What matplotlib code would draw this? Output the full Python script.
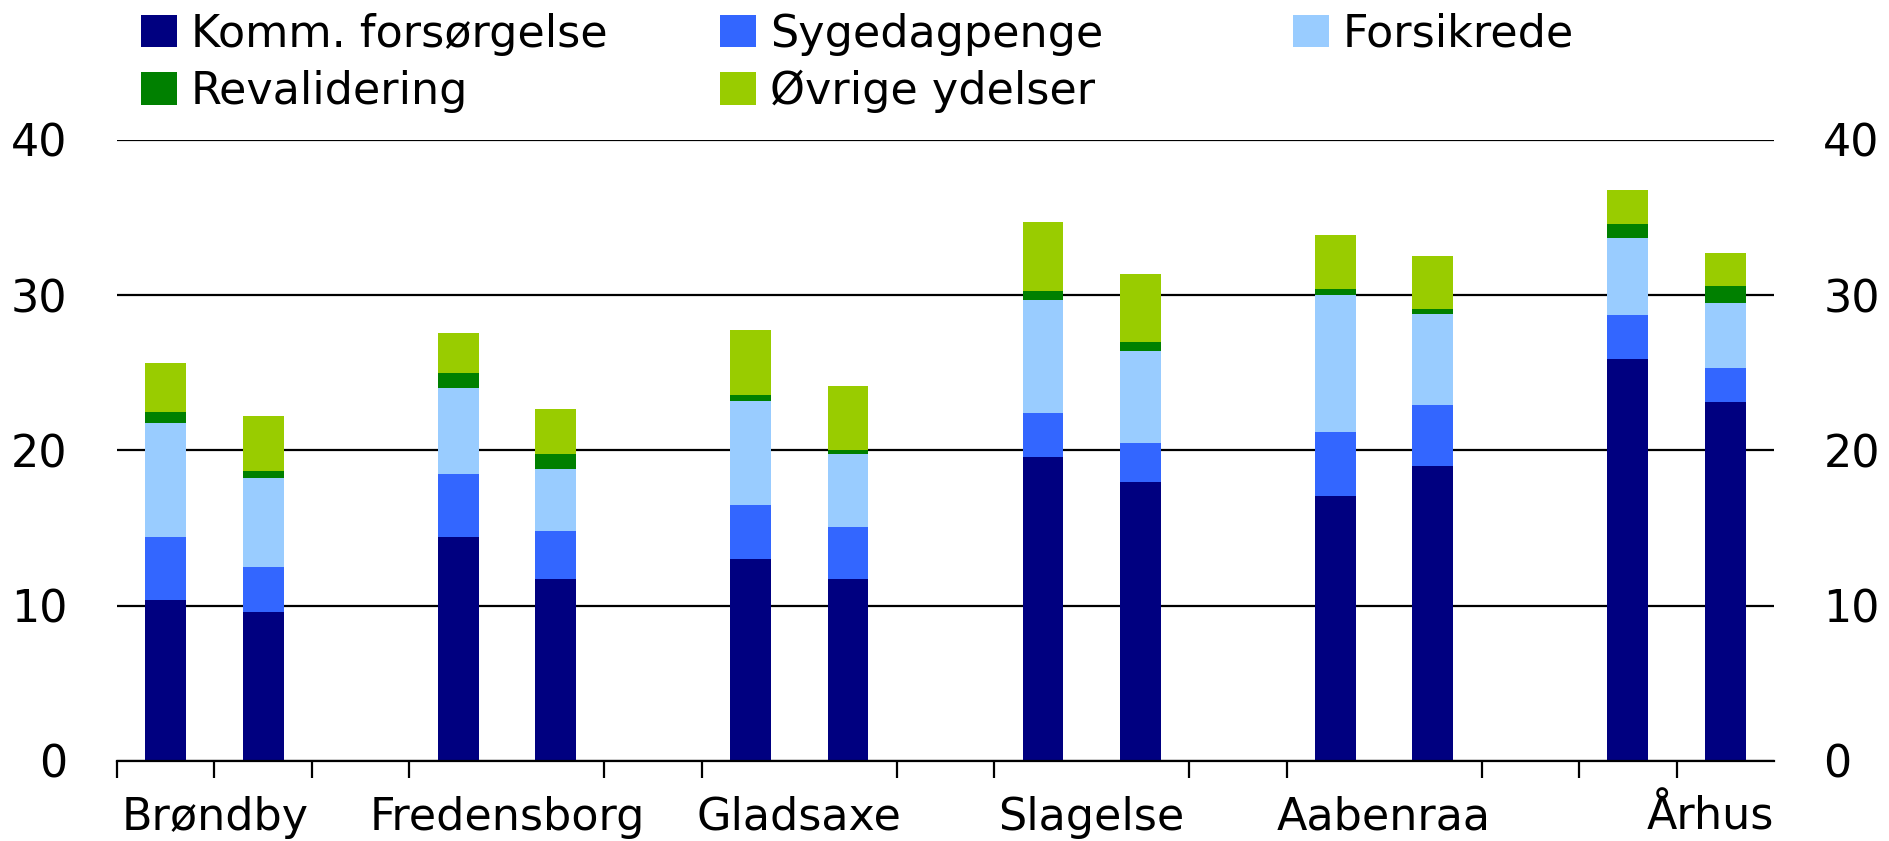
import matplotlib
matplotlib.use("Agg")
import matplotlib.pyplot as plt
import numpy as np

kommuner = ["Brøndby", "Fredensborg", "Gladsaxe", "Slagelse", "Aabenraa", "Århus"]

# two bars per municipality
komm = [10.4, 9.6, 14.4, 11.7, 13.0, 11.7, 19.6, 18.0, 17.1, 19.0, 25.9, 23.1]
syge = [4.0, 2.9, 4.1, 3.1, 3.5, 3.4, 2.8, 2.5, 4.1, 3.9, 2.8, 2.2]
forsikrede = [7.4, 5.7, 5.5, 4.0, 6.7, 4.7, 7.3, 5.9, 8.8, 5.9, 5.0, 4.2]
reval = [0.65, 0.5, 1.0, 1.0, 0.35, 0.25, 0.6, 0.6, 0.4, 0.3, 0.9, 1.1]
ovrige = [3.2, 3.5, 2.6, 2.9, 4.2, 4.1, 4.4, 4.4, 3.5, 3.4, 2.2, 2.1]

series = [
    ("Komm. forsørgelse", komm, "#000080"),
    ("Sygedagpenge", syge, "#3366FF"),
    ("Forsikrede", forsikrede, "#99CCFF"),
    ("Revalidering", reval, "#008000"),
    ("Øvrige ydelser", ovrige, "#99CC00"),
]

FS = 32

fig = plt.figure(figsize=(18.9, 8.41), dpi=100)
ax = fig.add_axes([117 / 1890, 1 - 761 / 841, (1774 - 117) / 1890, (761 - 140) / 841])

# bars sit in slots 0,1 / 3,4 / ... with an empty slot between groups
x = np.array([g * 3 + i for g in range(len(kommuner)) for i in range(2)])
bottom = np.zeros(len(x))
bars = {}
for name, vals, col in series:
    bars[name] = ax.bar(x, vals, 0.42, bottom=bottom, color=col, label=name, zorder=3)
    bottom += np.array(vals)

ax.set_xlim(-0.5, 16.5)
ax.set_ylim(0, 40)
ax.set_yticks([0, 10, 20, 30, 40])
ax.grid(axis="y", color="black", linewidth=1.6, zorder=0)
ax.set_axisbelow(True)
for s in ["left", "right", "top"]:
    ax.spines[s].set_visible(False)
ax.spines["bottom"].set_linewidth(1.6)
ax.spines["bottom"].set_zorder(4)

ax.tick_params(axis="y", left=False, right=False, labelleft=True, labelright=True,
               labelsize=FS, pad=32)

ax.set_xticks(np.arange(-0.5, 17, 1), minor=True)
ax.tick_params(axis="x", which="minor", length=12, width=1.6, direction="out")
ax.set_xticks([-0.45, 3.5, 6.5, 9.5, 12.5, 16.5])
ax.set_xticklabels(kommuner, fontsize=FS)
ax.tick_params(axis="x", which="major", length=0, pad=25)
xl = ax.get_xticklabels()
xl[0].set_ha("left")
xl[-1].set_ha("right")

# legend in three columns, placed like the original
cols = [(141, ["Komm. forsørgelse", "Revalidering"]),
        (720, ["Sygedagpenge", "Øvrige ydelser"]),
        (1293, ["Forsikrede"])]
for xpos, names in cols:
    fig.legend([bars[n] for n in names], names, loc="upper left",
               bbox_to_anchor=(xpos / 1890, 0.985), frameon=False, borderpad=0,
               borderaxespad=0, handlelength=0.8, handleheight=0.75,
               handletextpad=0.32, labelspacing=0.32, fontsize=FS)

fig.savefig("out.png", dpi=100)
